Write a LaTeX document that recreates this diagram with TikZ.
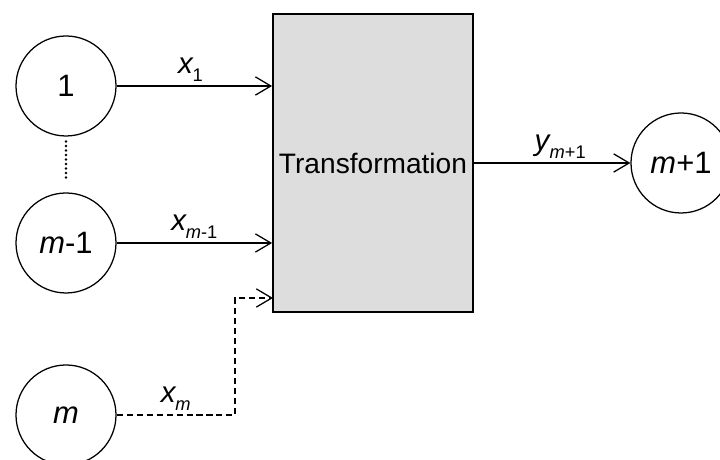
\documentclass[tikz,border=0pt]{standalone}
\usepackage{fontspec}
\setmainfont{Liberation Sans}
\usepackage{tikz}
\usetikzlibrary{positioning,arrows.meta}
\definecolor{boxcol}{RGB}{221,221,221}
\newcommand{\var}[1]{\textit{#1}}
\newcommand{\lsub}[1]{\kern-0.8pt\raisebox{-6pt}{\fontsize{13}{15}\selectfont #1}}

\begin{document}
\begin{tikzpicture}[
  unit/.style ={circle,draw,minimum size=2.5cm,inner sep=0pt,
                font=\fontsize{22}{26}\selectfont,line width=0.9pt},
  tbox/.style ={rectangle,draw,fill=boxcol,minimum width=5cm,minimum height=7.45cm,
                inner sep=0pt,font=\fontsize{20}{24}\selectfont,line width=1.3pt},
  conn/.style ={line width=0.9pt,-{Straight Barb[length=11pt,width=13pt]}},
  dconn/.style={conn,dash pattern=on 4.3pt off 2.8pt},
  lbl/.style  ={font=\fontsize{21}{25}\selectfont,inner sep=2.5pt}
]
\useasboundingbox (0,0) rectangle (18,11.5);
\node[unit] (n1)  at (1.65, 9.35)  {1};
\node[unit] (nm1) at (1.65, 5.425) {\var{m}-1};
\node[unit] (nm)  at (1.65, 1.125) {\var{m}};
\node[tbox] (box) at (9.325, 7.425) {Transformation};
\node[unit] (out) at (17.025, 7.425) {\var{m}+1};
\coordinate (turn) at (5.875, 1.125);
\coordinate (inm)  at (6.825, 4.05);
% inputs
\draw[conn] (n1.east)  -- node[lbl,above,xshift=-0.1cm] {\var{x}\lsub{1}} (box.west |- n1.east);
\draw[conn] (nm1.east) -- node[lbl,above] {\var{x}\lsub{\var{m}-1}} (box.west |- nm1.east);
\draw[dconn] (nm.east) -- node[lbl,above] {\var{x}\lsub{\var{m}}} (turn) |- (inm);
% output
\draw[conn] (box.east) -- node[lbl,above,xshift=0.2cm] {\var{y}\lsub{\var{m}+1}} (out.west);
\draw[line width=2pt,line cap=round,dash pattern=on 0pt off 3.2pt,
      shorten <=0.12cm,shorten >=0.3cm] (n1.south) -- (nm1.north);
\end{tikzpicture}
\end{document}
